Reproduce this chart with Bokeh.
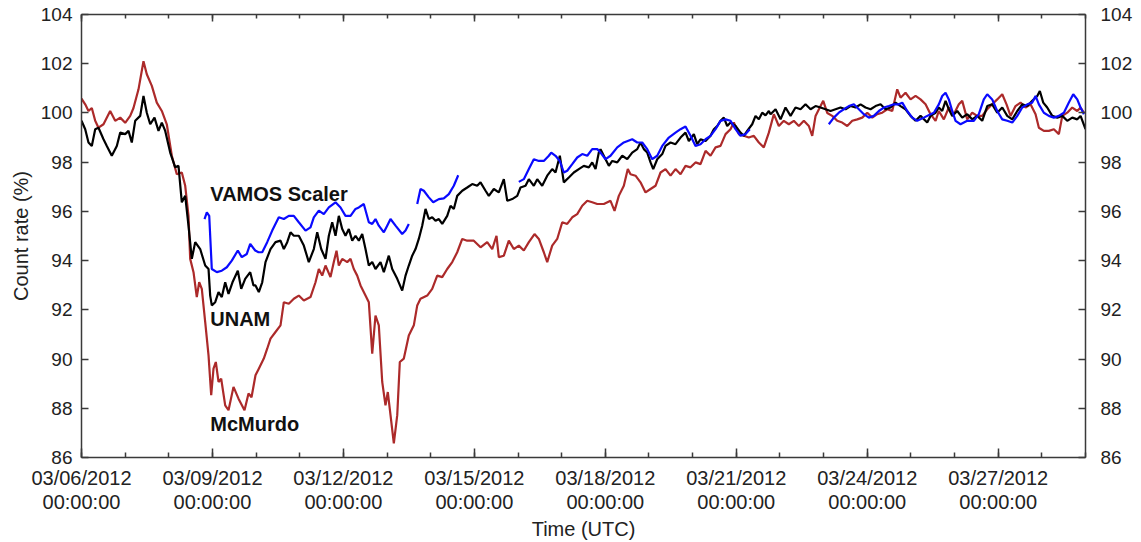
from datetime import datetime, timedelta
from bokeh.plotting import figure
from bokeh.models import (ColumnDataSource, Range1d, FixedTicker, DatetimeAxis, LinearAxis,
                          DatetimeTickFormatter)
from bokeh.core.properties import value
from bokeh.embed import file_html
from bokeh.resources import INLINE

# ---------------- data (time in days since 03/06/2012 00:00 UTC, count rate in %) ----------------
START = datetime(2012, 3, 6)

mcmurdo_days = [0.0, 0.085, 0.16, 0.236, 0.314, 0.389, 0.504, 0.657, 0.772, 0.887, 1.001, 1.116, 1.191, 1.306, 1.42, 1.496, 1.611, 1.725, 1.84, 1.954,
                2.069, 2.183, 2.298, 2.376, 2.451, 2.49, 2.566, 2.641, 2.696, 2.756, 2.834, 2.91, 2.971, 3.024, 3.077, 3.139, 3.2, 3.292, 3.368, 3.482,
                3.597, 3.734, 3.826, 3.895, 3.986, 4.062, 4.176, 4.254, 4.33, 4.444, 4.559, 4.635, 4.749, 4.864, 4.978, 5.093, 5.246, 5.361, 5.437, 5.514,
                5.59, 5.704, 5.78, 5.842, 5.895, 5.973, 6.087, 6.163, 6.238, 6.316, 6.392, 6.506, 6.582, 6.66, 6.735, 6.811, 6.889, 6.964, 7.017, 7.079,
                7.155, 7.233, 7.292, 7.384, 7.498, 7.613, 7.691, 7.766, 7.92, 8.034, 8.149, 8.264, 8.378, 8.493, 8.607, 8.722, 8.836, 8.987, 9.141, 9.294,
                9.409, 9.507, 9.56, 9.675, 9.789, 9.904, 10.018, 10.133, 10.248, 10.378, 10.477, 10.591, 10.669, 10.783, 10.898, 11.013, 11.127, 11.242, 11.356, 11.471,
                11.586, 11.7, 11.815, 11.966, 12.119, 12.211, 12.309, 12.424, 12.515, 12.577, 12.692, 12.806, 12.921, 13.036, 13.15, 13.265, 13.379, 13.494, 13.608, 13.723,
                13.837, 13.952, 14.066, 14.181, 14.296, 14.41, 14.525, 14.639, 14.754, 14.868, 14.944, 15.058, 15.173, 15.287, 15.402, 15.517, 15.631, 15.746, 15.86, 15.975,
                16.089, 16.204, 16.318, 16.433, 16.548, 16.662, 16.74, 16.816, 16.93, 16.992, 17.084, 17.198, 17.313, 17.427, 17.542, 17.657, 17.771, 17.886, 18.0, 18.115,
                18.229, 18.344, 18.458, 18.573, 18.687, 18.763, 18.877, 18.992, 19.107, 19.221, 19.336, 19.45, 19.565, 19.64, 19.755, 19.869, 19.984, 20.098, 20.176, 20.291,
                20.405, 20.52, 20.634, 20.749, 20.863, 20.978, 21.093, 21.191, 21.283, 21.397, 21.512, 21.627, 21.741, 21.856, 21.932, 22.046, 22.161, 22.275, 22.39, 22.468,
                22.582, 22.697, 22.811, 22.887, 22.963]
mcmurdo_vals = [100.58, 100.35, 100.08, 100.2, 99.68, 99.4, 99.54, 100.08, 99.68, 99.81, 99.6, 99.88, 100.2, 100.96, 102.1, 101.57, 101.1, 100.42, 100.08, 99.54,
                98.26, 97.51, 97.58, 97.04, 95.82, 94.07, 93.53, 92.52, 93.12, 92.85, 91.5, 90.15, 88.53, 89.61, 89.88, 89.07, 89.2, 88.12, 87.92, 88.87,
                88.39, 87.92, 88.6, 88.45, 89.34, 89.61, 90.02, 90.42, 90.83, 91.1, 91.37, 92.31, 92.25, 92.45, 92.58, 92.38, 92.52, 93.12, 93.66, 93.39,
                93.8, 93.33, 93.94, 94.4, 93.8, 94.07, 93.94, 94.07, 93.66, 93.39, 92.99, 92.58, 92.31, 90.22, 91.77, 91.37, 89.07, 88.12, 88.66, 87.72,
                86.57, 87.72, 89.88, 90.02, 90.96, 91.37, 92.18, 92.45, 92.58, 92.85, 93.39, 93.33, 93.66, 93.94, 94.34, 94.88, 94.81, 94.81, 94.54, 94.75,
                94.47, 95.01, 94.14, 94.2, 94.81, 94.47, 94.61, 94.41, 94.75, 95.08, 94.88, 94.34, 93.94, 94.61, 94.88, 95.56, 95.49, 95.76, 95.89, 96.23,
                96.43, 96.37, 96.3, 96.3, 96.43, 96.02, 96.63, 97.04, 97.72, 97.51, 97.45, 97.18, 96.77, 96.91, 97.04, 97.58, 97.72, 97.45, 97.72, 97.51,
                97.85, 97.79, 97.99, 97.92, 98.46, 98.26, 98.6, 98.66, 99.14, 99.34, 99.61, 99.14, 99.07, 99.0, 99.07, 98.8, 98.6, 99.2, 99.95, 99.47,
                99.68, 99.54, 99.68, 99.47, 99.68, 99.47, 99.07, 99.88, 100.28, 100.49, 100.0, 99.88, 99.68, 99.61, 99.47, 99.68, 99.74, 99.81, 100.01, 99.81,
                99.95, 100.01, 100.15, 100.08, 100.96, 100.62, 100.82, 100.55, 100.69, 100.55, 100.35, 99.95, 99.68, 100.08, 99.74, 100.22, 99.95, 100.35, 100.49, 99.74,
                100.01, 99.88, 99.88, 100.15, 100.35, 100.55, 100.76, 100.35, 99.88, 100.28, 100.42, 100.22, 100.35, 99.95, 99.4, 99.27, 99.27, 99.34, 99.14, 99.88,
                100.01, 100.22, 100.08, 100.22, 100.01]

unam_days = [0.0, 0.085, 0.16, 0.236, 0.314, 0.389, 0.504, 0.58, 0.694, 0.809, 0.887, 1.001, 1.077, 1.152, 1.23, 1.345, 1.42, 1.496, 1.574, 1.672,
             1.764, 1.84, 1.918, 2.032, 2.147, 2.222, 2.298, 2.376, 2.451, 2.527, 2.605, 2.719, 2.834, 2.91, 2.948, 2.985, 3.063, 3.139, 3.214, 3.292,
             3.368, 3.459, 3.581, 3.659, 3.75, 3.865, 3.94, 3.986, 4.062, 4.14, 4.215, 4.33, 4.444, 4.559, 4.635, 4.713, 4.788, 4.864, 4.978, 5.093,
             5.207, 5.322, 5.4, 5.491, 5.59, 5.666, 5.743, 5.819, 5.895, 5.973, 6.048, 6.124, 6.202, 6.277, 6.353, 6.431, 6.506, 6.582, 6.66, 6.735,
             6.85, 6.926, 7.04, 7.118, 7.233, 7.347, 7.423, 7.498, 7.576, 7.652, 7.727, 7.805, 7.881, 7.957, 8.034, 8.11, 8.186, 8.264, 8.378, 8.454,
             8.529, 8.607, 8.722, 8.836, 8.951, 9.065, 9.141, 9.256, 9.331, 9.446, 9.56, 9.675, 9.753, 9.867, 9.982, 10.057, 10.172, 10.248, 10.362, 10.44,
             10.554, 10.669, 10.783, 10.859, 10.958, 11.049, 11.164, 11.278, 11.393, 11.507, 11.622, 11.7, 11.776, 11.851, 11.89, 12.005, 12.081, 12.159, 12.273, 12.388,
             12.502, 12.616, 12.731, 12.806, 12.882, 12.96, 13.036, 13.097, 13.189, 13.304, 13.379, 13.494, 13.608, 13.723, 13.837, 13.913, 14.028, 14.104, 14.181, 14.296,
             14.41, 14.486, 14.563, 14.639, 14.715, 14.792, 14.868, 14.983, 15.097, 15.173, 15.25, 15.365, 15.441, 15.517, 15.594, 15.67, 15.746, 15.785, 15.9, 16.014,
             16.128, 16.243, 16.357, 16.472, 16.586, 16.701, 16.816, 16.93, 17.045, 17.159, 17.274, 17.388, 17.503, 17.617, 17.732, 17.847, 17.961, 18.076, 18.19, 18.305,
             18.419, 18.534, 18.648, 18.763, 18.877, 18.992, 19.107, 19.221, 19.374, 19.45, 19.565, 19.64, 19.718, 19.794, 19.869, 19.947, 20.062, 20.176, 20.291, 20.405,
             20.52, 20.634, 20.749, 20.863, 20.978, 21.093, 21.207, 21.322, 21.437, 21.551, 21.666, 21.78, 21.895, 21.954, 22.032, 22.123, 22.238, 22.353, 22.468, 22.582,
             22.697, 22.811, 22.887, 23.0]
unam_vals = [99.68, 99.34, 98.8, 98.66, 99.34, 99.4, 98.93, 98.66, 98.26, 98.66, 99.2, 99.14, 99.27, 98.8, 99.68, 99.88, 100.69, 100.01, 99.54, 99.81,
             99.27, 99.61, 99.27, 98.39, 97.79, 97.85, 96.37, 96.63, 95.42, 94.07, 94.75, 94.47, 93.8, 93.66, 92.58, 92.18, 92.31, 92.72, 92.52, 93.12,
             92.65, 93.12, 93.59, 92.85, 93.26, 93.53, 92.99, 92.99, 92.72, 93.12, 93.94, 94.47, 94.75, 94.81, 94.47, 94.75, 95.15, 95.01, 95.01, 94.61,
             93.94, 94.47, 95.15, 94.47, 94.07, 95.01, 95.56, 95.01, 95.82, 95.28, 95.01, 95.28, 94.81, 95.01, 94.81, 95.08, 94.47, 93.8, 93.94, 93.66,
             93.94, 93.53, 94.2, 93.66, 93.26, 92.78, 93.39, 93.8, 94.2, 94.47, 94.88, 95.42, 96.1, 95.69, 95.76, 95.62, 95.69, 95.49, 95.82, 96.23,
             96.1, 96.63, 96.84, 96.97, 97.11, 97.04, 97.18, 96.84, 96.63, 96.91, 96.77, 97.31, 96.43, 96.5, 96.63, 96.97, 97.04, 97.31, 97.04, 97.31,
             97.04, 97.45, 97.72, 97.58, 98.26, 97.18, 97.38, 97.58, 97.72, 97.85, 97.79, 97.99, 97.72, 98.39, 98.53, 98.12, 97.85, 98.05, 97.99, 98.26,
             98.12, 98.39, 98.53, 98.8, 98.53, 98.39, 97.99, 97.72, 98.12, 98.33, 98.66, 98.8, 98.73, 99.0, 99.2, 98.86, 99.14, 98.73, 98.93, 98.86,
             99.07, 99.34, 99.47, 99.68, 99.81, 99.47, 99.61, 99.47, 99.2, 99.07, 99.27, 99.54, 99.88, 99.74, 100.01, 99.9, 100.08, 99.95, 100.15, 99.74,
             100.22, 99.88, 100.22, 100.15, 100.35, 100.15, 100.28, 100.22, 100.15, 100.08, 100.15, 100.22, 100.15, 100.28, 100.22, 100.35, 100.22, 100.15, 100.28, 100.35,
             100.15, 100.22, 100.42, 100.28, 100.15, 99.88, 99.68, 99.88, 99.61, 99.88, 100.01, 100.22, 100.08, 100.49, 100.15, 99.88, 100.08, 99.81, 99.95, 99.74,
             99.88, 99.68, 100.28, 100.35, 100.01, 100.22, 99.88, 99.74, 100.08, 100.35, 100.28, 100.49, 100.69, 100.89, 100.42, 100.22, 99.88, 99.81, 99.88, 99.68,
             99.81, 99.74, 99.88, 99.34]

NAN = float("nan")
vamos_days = [2.818, 2.871, 2.926, 2.985, 3.1, 3.214, 3.329, 3.443, 3.581, 3.672, 3.787, 3.865, 3.979, 4.055, 4.14, 4.254, 4.369, 4.52, 4.635, 4.749,
              4.864, 4.978, 5.132, 5.246, 5.322, 5.437, 5.551, 5.666, 5.819, 5.934, 6.048, 6.163, 6.277, 6.353, 6.467, 6.582, 6.66, 6.735, 6.811, 6.926,
              7.003, 7.079, 7.194, 7.347, 7.423, 7.498, 7.6,
              7.691, 7.766, 7.842, 7.957, 8.057, 8.186, 8.3, 8.415, 8.529, 8.63, 9.3,
              10.018, 10.133, 10.248, 10.362, 10.477, 10.591, 10.706, 10.761, 10.859, 10.958, 11.049, 11.127, 11.242, 11.356, 11.471, 11.586, 11.7, 11.815, 11.89, 12.005,
              12.119, 12.273, 12.424, 12.616, 12.731, 12.845, 12.96, 13.074, 13.189, 13.304, 13.455, 13.608, 13.723, 13.837, 13.952, 14.066, 14.181, 14.296, 14.41, 14.525,
              14.639, 14.754, 14.868, 14.983, 15.097, 15.212, 15.31, 16.2,
              17.12, 17.235, 17.349, 17.464, 17.579, 17.693, 17.808, 17.922, 18.037, 18.151, 18.266, 18.38, 18.495, 18.609, 18.724, 18.802, 18.916, 19.031, 19.145, 19.297,
              19.45, 19.526, 19.64, 19.718, 19.794, 19.869, 19.947, 20.023, 20.137, 20.291, 20.442, 20.556, 20.67, 20.749, 20.863, 20.978, 21.093, 21.207, 21.322, 21.437,
              21.551, 21.666, 21.78, 21.856, 21.932, 22.046, 22.161, 22.275, 22.39, 22.505, 22.619, 22.719, 22.811, 22.887, 22.963]
vamos_vals = [95.69, 95.96, 95.82, 93.66, 93.53, 93.59, 93.73, 94.0, 94.41, 94.14, 94.27, 94.68, 94.41, 94.34, 94.34, 94.75, 95.22, 95.76, 95.69, 95.82,
              95.82, 95.56, 95.22, 95.35, 95.76, 96.03, 95.89, 96.16, 96.37, 96.16, 95.82, 95.82, 96.1, 96.16, 96.3, 95.56, 95.49, 95.69, 95.42, 95.15,
              95.42, 95.69, 95.42, 95.08, 95.22, 95.49, NAN,
              96.3, 96.91, 96.84, 96.57, 96.37, 96.5, 96.53, 96.7, 97.04, 97.47, NAN,
              97.2, 97.31, 97.72, 98.12, 98.05, 98.05, 98.26, 98.39, 98.26, 98.05, 97.58, 97.65, 97.92, 98.19, 98.33, 98.26, 98.53, 98.53, 98.39, 98.12,
              98.26, 98.6, 98.8, 98.93, 98.8, 98.8, 98.53, 98.12, 98.26, 98.66, 99.0, 99.2, 99.34, 99.45, 99.07, 98.66, 98.73, 98.93, 99.07, 99.34,
              99.68, 99.74, 99.68, 99.34, 99.07, 99.14, 99.34, NAN,
              99.54, 99.81, 100.01, 100.15, 100.28, 100.35, 100.15, 99.95, 99.81, 99.88, 100.08, 100.22, 100.28, 100.35, 100.35, 100.42, 100.08, 99.81, 99.68, 99.81,
              99.95, 100.01, 100.35, 100.69, 100.82, 100.55, 100.08, 99.68, 99.54, 99.68, 99.68, 99.95, 100.55, 100.76, 100.55, 100.08, 99.74, 99.68, 99.61, 99.88,
              100.22, 100.35, 100.42, 100.69, 100.35, 100.01, 99.88, 99.81, 99.88, 100.01, 100.42, 100.76, 100.55, 100.22, 99.95]

label_texts = ["VAMOS Scaler", "UNAM", "McMurdo"]
label_days = [2.95, 2.95, 2.95]
label_vals = [96.72, 91.62, 87.38]

x_major_days = [0, 3, 6, 9, 12, 15, 18, 21]
x_minor_days = list(range(0, 24))
y_ticks = [86, 88, 90, 92, 94, 96, 98, 100, 102, 104]
X_END_DAYS = 23

# ---------------- helpers ----------------
EPOCH = datetime(1970, 1, 1)


def to_dt(days):
    return [START + timedelta(days=d) for d in days]


def to_ms(days):
    return [((START + timedelta(days=d)) - EPOCH).total_seconds() * 1000.0 for d in days]


FONT = "Liberation Sans"
AX_COLOR = "#3a3a3a"

p = figure(width=1141, height=542, x_axis_type="datetime", output_backend="svg", toolbar_location=None,
           x_range=Range1d(START, START + timedelta(days=X_END_DAYS)), y_range=Range1d(86, 104),
           min_border_left=81, min_border_right=56, min_border_top=14, min_border_bottom=84)
p.outline_line_color = None
p.xgrid.visible = False
p.ygrid.visible = False
p.background_fill_color = "white"

fmt = "%m/%d/%Y\n%H:%M:%S"
xformatter = DatetimeTickFormatter(microseconds=fmt, milliseconds=fmt, seconds=fmt, minsec=fmt, minutes=fmt,
                                   hourmin=fmt, hours=fmt, days=fmt, months=fmt, years=fmt)


def style_axis(ax):
    ax.axis_line_color = AX_COLOR
    ax.axis_line_width = 1.5
    ax.major_tick_line_color = AX_COLOR
    ax.major_tick_line_width = 1.5
    ax.minor_tick_line_color = AX_COLOR
    ax.minor_tick_line_width = 1.5
    ax.major_tick_out = 0
    ax.minor_tick_out = 0
    ax.major_label_text_font = FONT
    ax.major_label_text_color = "#222222"
    ax.axis_label_text_font = FONT
    ax.axis_label_text_font_style = "normal"
    ax.axis_label_text_color = "#222222"
    ax.axis_label_text_font_size = "20px"


# bottom x axis
xb = p.xaxis[0]
xb.ticker = FixedTicker(ticks=to_ms(x_major_days), minor_ticks=to_ms(x_minor_days))
xb.formatter = xformatter
style_axis(xb)
xb.major_tick_in = 9
xb.minor_tick_in = 5
xb.major_label_text_font_size = "20px"
xb.major_label_text_line_height = 1.1
xb.major_label_standoff = 9
xb.axis_label = "Time (UTC)"
xb.axis_label_standoff = 2

# top x axis (ticks only, labels not painted)
xt = DatetimeAxis(ticker=FixedTicker(ticks=to_ms(x_major_days), minor_ticks=to_ms(x_minor_days)),
                  formatter=xformatter)
style_axis(xt)
xt.major_tick_in = 7
xt.minor_tick_in = 4
xt.major_label_text_font_size = "1px"
xt.major_label_text_color = None
xt.major_label_text_alpha = 0
xt.major_label_standoff = 0
p.add_layout(xt, "above")

# left y axis
yl = p.yaxis[0]
yl.ticker = FixedTicker(ticks=y_ticks, minor_ticks=[])
style_axis(yl)
yl.major_tick_in = 7
yl.minor_tick_line_color = None
yl.major_label_text_font_size = "19px"
yl.major_label_standoff = 9
yl.axis_label = "Count rate (%)"
yl.axis_label_standoff = 6

# right y axis
yr = LinearAxis(ticker=FixedTicker(ticks=y_ticks, minor_ticks=[]))
style_axis(yr)
yr.major_tick_in = 7
yr.minor_tick_line_color = None
yr.major_label_text_font_size = "19px"
yr.major_label_standoff = 15
p.add_layout(yr, "right")

# series
src_mcm = ColumnDataSource(dict(t=to_dt(mcmurdo_days), v=mcmurdo_vals))
src_unam = ColumnDataSource(dict(t=to_dt(unam_days), v=unam_vals))
src_vamos = ColumnDataSource(dict(t=to_dt(vamos_days), v=vamos_vals))

p.line("t", "v", source=src_mcm, line_color="#ac2a2a", line_width=2.2)
p.line("t", "v", source=src_unam, line_color="black", line_width=2.2)
p.line("t", "v", source=src_vamos, line_color="#0a0aff", line_width=2.2)

src_lab = ColumnDataSource(dict(t=to_dt(label_days), v=label_vals, txt=label_texts))
p.text("t", "v", text="txt", source=src_lab, text_font=value(FONT), text_font_style="bold",
       text_font_size="20px", text_color="#111111", text_align="left", text_baseline="middle")

open("out.html", "w").write(file_html(p, INLINE))
